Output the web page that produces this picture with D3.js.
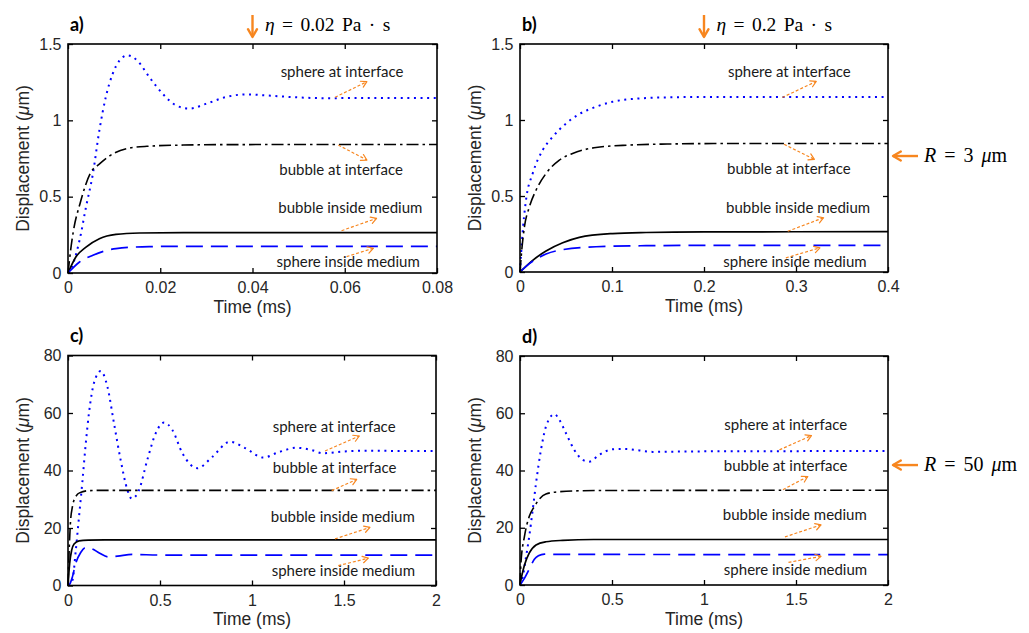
<!DOCTYPE html>
<html>
<head>
<meta charset="utf-8">
<script src="https://cdn.jsdelivr.net/npm/d3@7"></script>
<style>
  body { margin: 0; background: #fff; }
  svg { display: block; }
</style>
</head>
<body>
<div id="chart"></div>
<script>
// ---- data (time in ms, displacement in um) ----

// a) R = 3 um, eta = 0.02 Pa s
var a_sphereInt_t = [0, 0.0003, 0.0025, 0.0039, 0.0054, 0.0068, 0.0082, 0.0097, 0.0111, 0.0129, 0.0151, 0.0176, 0.0205, 0.0234, 0.0263, 0.0299, 0.0343, 0.0386, 0.043, 0.05, 0.056, 0.065, 0.08];
var a_sphereInt_d = [0, 0.01, 0.214, 0.432, 0.651, 0.934, 1.153, 1.306, 1.389, 1.426, 1.389, 1.284, 1.175, 1.098, 1.077, 1.108, 1.153, 1.170, 1.163, 1.150, 1.145, 1.147, 1.147];
var a_bubbleInt_t = [0, 0.0003, 0.0007, 0.0012, 0.0026, 0.0048, 0.0069, 0.0098, 0.0127, 0.0171, 0.025, 0.035, 0.08];
var a_bubbleInt_d = [0, 0.08, 0.18, 0.28, 0.454, 0.651, 0.716, 0.782, 0.815, 0.830, 0.838, 0.841, 0.842];
var a_bubbleMed_t = [0, 0.0017, 0.0039, 0.0068, 0.0104, 0.0155, 0.025, 0.08];
var a_bubbleMed_d = [0, 0.105, 0.170, 0.225, 0.253, 0.262, 0.265, 0.265];
var a_sphereMed_t = [0, 0.0025, 0.0054, 0.0104, 0.0176, 0.025, 0.08];
var a_sphereMed_d = [0, 0.072, 0.116, 0.160, 0.173, 0.175, 0.175];

// b) R = 3 um, eta = 0.2 Pa s
var b_sphereInt_t = [0, 0.001, 0.0022, 0.0065, 0.0138, 0.0247, 0.0355, 0.05, 0.0645, 0.0826, 0.1007, 0.13, 0.17, 0.21, 0.4];
var b_sphereInt_d = [0, 0.1, 0.209, 0.472, 0.648, 0.802, 0.889, 0.977, 1.039, 1.087, 1.12, 1.142, 1.15, 1.152, 1.152];
var b_bubbleInt_t = [0, 0.002, 0.0048, 0.0102, 0.0174, 0.0283, 0.0428, 0.0572, 0.0826, 0.1189, 0.16, 0.21, 0.4];
var b_bubbleInt_d = [0, 0.15, 0.296, 0.428, 0.538, 0.648, 0.736, 0.78, 0.819, 0.835, 0.842, 0.845, 0.845];
var b_bubbleMed_t = [0, 0.0138, 0.0283, 0.0464, 0.0645, 0.1007, 0.137, 0.2, 0.4];
var b_bubbleMed_d = [0, 0.077, 0.138, 0.192, 0.228, 0.253, 0.26, 0.264, 0.265];
var b_sphereMed_t = [0, 0.0102, 0.0283, 0.0464, 0.0826, 0.137, 0.2, 0.4];
var b_sphereMed_d = [0, 0.055, 0.118, 0.147, 0.166, 0.173, 0.175, 0.175];

// c) R = 50 um, eta = 0.02 Pa s
var c_sphereInt_t = [0, 0.024, 0.042, 0.06, 0.078, 0.096, 0.114, 0.141, 0.178, 0.214, 0.25, 0.286, 0.323, 0.347, 0.386, 0.431, 0.477, 0.522, 0.567, 0.622, 0.703, 0.785, 0.88, 0.966, 1.06, 1.15, 1.241, 1.32, 1.386, 1.5, 1.621, 1.8, 2];
var c_sphereInt_d = [0, 1.8, 12, 24, 36, 49, 60, 70.4, 74.6, 69.2, 56.4, 43.7, 33.2, 30.2, 33.2, 43.7, 53, 56.7, 54.1, 46, 40.8, 44.8, 50, 47.7, 44.5, 46.5, 47.9, 47.2, 46, 46.6, 46.9, 46.8, 46.8];
var c_bubbleInt_t = [0, 0.005, 0.013, 0.024, 0.042, 0.065, 0.114, 0.2, 2];
var c_bubbleInt_d = [0, 10, 21.6, 27.4, 30.9, 32.3, 33, 33.1, 33.1];
var c_bubbleMed_t = [0, 0.009, 0.02, 0.033, 0.06, 0.11, 0.2, 2];
var c_bubbleMed_d = [0, 7.7, 12.3, 14.4, 15.5, 15.8, 15.9, 15.9];
var c_sphereMed_t = [0, 0.01, 0.024, 0.042, 0.069, 0.096, 0.13, 0.17, 0.22, 0.27, 0.35, 0.5, 2];
var c_sphereMed_d = [0, 0.5, 3, 7.7, 11.5, 13.2, 12.8, 11.3, 9.9, 10.2, 10.8, 10.6, 10.6];

// d) R = 50 um, eta = 0.2 Pa s
var d_sphereInt_t = [0, 0.015, 0.033, 0.05, 0.069, 0.087, 0.114, 0.141, 0.187, 0.214, 0.25, 0.295, 0.341, 0.377, 0.431, 0.504, 0.576, 0.649, 0.721, 0.85, 1.05, 2];
var d_sphereInt_d = [0, 2.9, 9.9, 16.9, 26.2, 35.5, 47.2, 55.3, 59.7, 57.7, 53, 47.2, 43.7, 43.1, 45.5, 47.4, 47.5, 47, 46.5, 46.6, 46.7, 46.8];
var d_bubbleInt_t = [0, 0.005, 0.024, 0.05, 0.078, 0.105, 0.141, 0.214, 0.413, 2];
var d_bubbleInt_d = [0, 7.6, 16.9, 23.9, 27.4, 30, 31.8, 32.6, 33, 33.1];
var d_bubbleMed_t = [0, 0.01, 0.024, 0.05, 0.087, 0.141, 0.232, 0.4, 2];
var d_bubbleMed_d = [0, 3.3, 6.9, 11.1, 14, 15.1, 15.6, 15.9, 15.9];
var d_sphereMed_t = [0, 0.024, 0.05, 0.078, 0.1, 0.133, 0.2, 2];
var d_sphereMed_d = [0, 2.3, 5.5, 9.0, 10.2, 10.8, 10.7, 10.6];

// axis ticks
var xTicksA = [0, 0.02, 0.04, 0.06, 0.08];
var xTicksB = [0, 0.1, 0.2, 0.3, 0.4];
var xTicksCD = [0, 0.5, 1, 1.5, 2];
var yTicksAB = [0, 0.5, 1, 1.5];
var yTicksCD = [0, 20, 40, 60, 80];

// curve labels and where they sit (data units: [time, displacement])
var labelText = ['sphere at interface', 'bubble at interface', 'bubble inside medium', 'sphere inside medium'];
var a_labelPos = [[0.0461, 1.282], [0.0458, 0.642], [0.0456, 0.391], [0.0452, 0.041]];
var b_labelPos = [[0.226, 1.284], [0.225, 0.642], [0.224, 0.385], [0.221, 0.033]];
var c_labelPos = [[1.1125, 53.5], [1.1125, 39.0], [1.102, 22.2], [1.107, 3.3]];
var d_labelPos = [[1.110, 54.2], [1.108, 39.7], [1.102, 22.8], [1.108, 3.6]];
// dashed orange pointers [t1, v1, t2, v2]
var a_pointers = [[0.0579, 1.151, 0.0648, 1.253], [0.0586, 0.838, 0.0648, 0.740], [0.0593, 0.277, 0.0669, 0.358], [0.0604, 0.107, 0.0662, 0.162]];
var b_pointers = [[0.285, 1.148, 0.322, 1.254], [0.287, 0.840, 0.320, 0.741], [0.291, 0.268, 0.330, 0.357], [0.289, 0.093, 0.326, 0.159]];
var c_pointers = [[1.397, 46.8, 1.583, 52.0], [1.433, 33.0, 1.569, 36.9], [1.451, 16.2, 1.641, 20.2], [1.469, 6.9, 1.632, 9.5]];
var d_pointers = [[1.410, 47.2, 1.584, 52.2], [1.429, 33.3, 1.564, 37.9], [1.440, 16.8, 1.636, 21.0], [1.459, 7.9, 1.636, 10.0]];

var W = 1029, H = 633;
var orange = '#f7861f';
var tickFont = '"Liberation Sans", Arial, sans-serif';
var labelFont = 'Lato, "Open Sans", sans-serif';
var mathFont = '"Liberation Serif", "DejaVu Serif", serif';

// line styles, same order as the series list
var styles = [
  {color: '#0000ff', width: 2, dash: '2,4.6'},          // sphere at interface (dotted)
  {color: '#000000', width: 1.6, dash: '12,4,2.5,4'},   // bubble at interface (dash-dot)
  {color: '#000000', width: 1.7, dash: null},           // bubble inside medium (solid)
  {color: '#0000ff', width: 1.7, dash: '17,8'}          // sphere inside medium (dashed)
];

var svg = d3.select('#chart').append('svg')
            .attr('width', W)
            .attr('height', H);

var panels = [
  {name: 'a)', left: 68, top: 44, w: 369, h: 229, xMax: 0.08, yMax: 1.5, xTicks: xTicksA, yTicks: yTicksAB,
   series: [[a_sphereInt_t, a_sphereInt_d], [a_bubbleInt_t, a_bubbleInt_d], [a_bubbleMed_t, a_bubbleMed_d], [a_sphereMed_t, a_sphereMed_d]],
   labels: a_labelPos, pointers: a_pointers},
  {name: 'b)', left: 520, top: 44, w: 368, h: 228, xMax: 0.4, yMax: 1.5, xTicks: xTicksB, yTicks: yTicksAB,
   series: [[b_sphereInt_t, b_sphereInt_d], [b_bubbleInt_t, b_bubbleInt_d], [b_bubbleMed_t, b_bubbleMed_d], [b_sphereMed_t, b_sphereMed_d]],
   labels: b_labelPos, pointers: b_pointers},
  {name: 'c)', left: 68, top: 355.5, w: 368, h: 230, xMax: 2, yMax: 80, xTicks: xTicksCD, yTicks: yTicksCD,
   series: [[c_sphereInt_t, c_sphereInt_d], [c_bubbleInt_t, c_bubbleInt_d], [c_bubbleMed_t, c_bubbleMed_d], [c_sphereMed_t, c_sphereMed_d]],
   labels: c_labelPos, pointers: c_pointers},
  {name: 'd)', left: 520, top: 356, w: 368, h: 229, xMax: 2, yMax: 80, xTicks: xTicksCD, yTicks: yTicksCD,
   series: [[d_sphereInt_t, d_sphereInt_d], [d_bubbleInt_t, d_bubbleInt_d], [d_bubbleMed_t, d_bubbleMed_d], [d_sphereMed_t, d_sphereMed_d]],
   labels: d_labelPos, pointers: d_pointers}
];

panels.forEach(drawPanel);

// viscosity annotations above the top row, radius annotations right of the right column
etaNote(panels[0], 0.04, '0.02');
etaNote(panels[1], 0.2, '0.2');
radiusNote(panels[1], 0.763, '3');
radiusNote(panels[3], 41.9, '50');

function drawPanel(p) {
  var x = d3.scaleLinear().domain([0, p.xMax]).range([p.left, p.left + p.w]);
  var y = d3.scaleLinear().domain([0, p.yMax]).range([p.top + p.h, p.top]);
  p.x = x; p.y = y;

  var g = svg.append('g');

  var line = d3.line()
               .x(function(d) { return x(d[0]); })
               .y(function(d) { return y(d[1]); })
               .curve(d3.curveMonotoneX);

  p.series.forEach(function(s, i) {
    var st = styles[i];
    g.append('path')
     .datum(d3.zip(s[0], s[1]))
     .attr('d', line)
     .attr('fill', 'none')
     .attr('stroke', st.color)
     .attr('stroke-width', st.width)
     .attr('stroke-dasharray', st.dash);
  });

  // matlab style box with inward ticks on all four sides
  var bottom = g.append('g')
                .attr('transform', 'translate(0,' + (p.top + p.h) + ')')
                .call(d3.axisBottom(x).tickValues(p.xTicks).tickSizeInner(-5).tickSizeOuter(0).tickPadding(9)
                        .tickFormat(function(d) { return String(d); }));
  var left = g.append('g')
              .attr('transform', 'translate(' + p.left + ',0)')
              .call(d3.axisLeft(y).tickValues(p.yTicks).tickSizeInner(-5).tickSizeOuter(0).tickPadding(6.5)
                      .tickFormat(function(d) { return String(d); }));
  var top = g.append('g')
             .attr('transform', 'translate(0,' + p.top + ')')
             .call(d3.axisTop(x).tickValues(p.xTicks).tickSizeInner(-5).tickSizeOuter(0).tickFormat(''));
  var right = g.append('g')
               .attr('transform', 'translate(' + (p.left + p.w) + ',0)')
               .call(d3.axisRight(y).tickValues(p.yTicks).tickSizeInner(-5).tickSizeOuter(0).tickFormat(''));

  [bottom, left, top, right].forEach(function(ax) {
    ax.select('.domain').remove();
    ax.selectAll('line').attr('stroke', '#000').attr('stroke-width', 1.3);
    ax.selectAll('text')
      .attr('font-family', tickFont)
      .attr('font-size', 16)
      .attr('fill', '#262626');
  });

  g.append('rect')
   .attr('x', p.left)
   .attr('y', p.top)
   .attr('width', p.w)
   .attr('height', p.h)
   .attr('fill', 'none')
   .attr('stroke', '#000')
   .attr('stroke-width', 1.6);

  // axis titles
  g.append('text')
   .attr('x', p.left + p.w / 2)
   .attr('y', p.top + p.h + 39.5)
   .attr('text-anchor', 'middle')
   .attr('font-family', tickFont)
   .attr('font-size', 17.5)
   .attr('fill', '#262626')
   .text('Time (ms)');

  var yl = g.append('text')
            .attr('transform', 'translate(' + (p.left - 39.5) + ',' + (p.top + p.h / 2) + ')rotate(-90)')
            .attr('text-anchor', 'middle')
            .attr('font-family', tickFont)
            .attr('font-size', 17.5)
            .attr('fill', '#262626');
  yl.append('tspan').text('Displacement (');
  yl.append('tspan').attr('font-style', 'italic').text('\u03bc');
  yl.append('tspan').text('m)');

  // panel letter
  g.append('text')
   .attr('x', p.left + 2)
   .attr('y', p.top - 13.5)
   .attr('font-family', labelFont)
   .attr('font-weight', 'bold')
   .attr('font-size', 18)
   .attr('fill', '#000')
   .text(p.name);

  // curve labels
  p.labels.forEach(function(pos, i) {
    g.append('text')
     .attr('x', x(pos[0]))
     .attr('y', y(pos[1]))
     .attr('font-family', labelFont)
     .attr('font-size', 15)
     .attr('fill', '#1a1a1a')
     .text(labelText[i]);
  });

  // dashed pointers
  p.pointers.forEach(function(a) {
    var x1 = x(a[0]), y1 = y(a[1]), x2 = x(a[2]), y2 = y(a[3]);
    g.append('line')
     .attr('x1', x1).attr('y1', y1).attr('x2', x2).attr('y2', y2)
     .attr('stroke', orange)
     .attr('stroke-width', 1.2)
     .attr('stroke-dasharray', '3,2');
    chevron(g, x2, y2, Math.atan2(y2 - y1, x2 - x1), 6.5, 1.2);
  });
}

// open arrow head pointing along angle ang, tip at (tx, ty)
function chevron(g, tx, ty, ang, len, sw) {
  var spread = Math.PI / 6;
  var pts = [
    [tx - len * Math.cos(ang - spread), ty - len * Math.sin(ang - spread)],
    [tx, ty],
    [tx - len * Math.cos(ang + spread), ty - len * Math.sin(ang + spread)]
  ];
  g.append('path')
   .attr('d', d3.line()(pts))
   .attr('fill', 'none')
   .attr('stroke', orange)
   .attr('stroke-width', sw)
   .attr('stroke-linecap', 'round')
   .attr('stroke-linejoin', 'round');
}

function etaNote(p, t, val) {
  var ax = p.x(t);
  var y1 = p.top - 29, y2 = p.top - 7;
  svg.append('line')
     .attr('x1', ax).attr('y1', y1).attr('x2', ax).attr('y2', y2)
     .attr('stroke', orange)
     .attr('stroke-width', 2.4);
  chevron(svg, ax, y2, Math.PI / 2, 9, 2.4);

  var tx = svg.append('text')
              .attr('x', ax + 12.5)
              .attr('y', p.top - 13)
              .attr('font-family', mathFont)
              .attr('font-size', 19.5)
              .attr('word-spacing', 2.5)
              .attr('fill', '#000');
  tx.append('tspan').attr('font-style', 'italic').text('\u03b7');
  tx.append('tspan').text(' = ' + val + ' Pa \u00b7 s');
}

function radiusNote(p, v, val) {
  var ay = p.y(v);
  var x1 = p.left + p.w + 30, x2 = p.left + p.w + 5;
  svg.append('line')
     .attr('x1', x1).attr('y1', ay).attr('x2', x2).attr('y2', ay)
     .attr('stroke', orange)
     .attr('stroke-width', 2.4);
  chevron(svg, x2, ay, Math.PI, 9, 2.4);

  var tx = svg.append('text')
              .attr('x', x1 + 6)
              .attr('y', ay + 6)
              .attr('font-family', mathFont)
              .attr('font-size', 20)
              .attr('word-spacing', 3)
              .attr('fill', '#000');
  tx.append('tspan').attr('font-style', 'italic').text('R');
  tx.append('tspan').text(' = ' + val + ' ');
  tx.append('tspan').attr('font-style', 'italic').text('\u03bc');
  tx.append('tspan').text('m');
}
</script>
</body>
</html>
